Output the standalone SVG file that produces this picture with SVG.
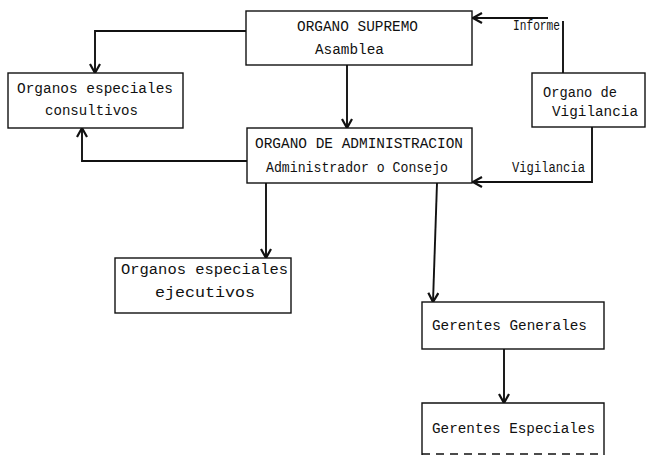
<svg xmlns="http://www.w3.org/2000/svg" width="651" height="458" viewBox="0 0 651 458">
<style>
.box{fill:#fff;stroke:#111;stroke-width:1.4}
.t{font-family:"Liberation Mono","DejaVu Sans Mono",monospace;font-size:14.5px;fill:#111}
.c{fill:none;stroke:#111;stroke-width:1.9}
</style>
<defs>
<marker id="ah" viewBox="0 0 12 12" refX="11" refY="6" markerWidth="12" markerHeight="12" markerUnits="userSpaceOnUse" orient="auto">
<path d="M2,1 L11,6 L2,11" fill="none" stroke="#111" stroke-width="2.2"/>
</marker>
</defs>
<rect width="651" height="458" fill="#fff"/>
<g id="connectors">
<path class="c" d="M246,31 H95 V73" marker-end="url(#ah)"/>
<path class="c" d="M247,161 H82 V128" marker-end="url(#ah)"/>
<path class="c" d="M347,65 V128" marker-end="url(#ah)"/>
<path class="c" d="M563,73 V21 M548,18 H473" marker-end="url(#ah)"/>
<path class="c" d="M592,127 V182 H473" marker-end="url(#ah)"/>
<path class="c" d="M266,183 V258" marker-end="url(#ah)"/>
<path class="c" d="M437,183 L433,302" marker-end="url(#ah)"/>
<path class="c" d="M504,349 V403" marker-end="url(#ah)"/>
<text class="t" x="513" y="30" textLength="47" lengthAdjust="spacingAndGlyphs">Informe</text>
<text class="t" x="512" y="172" textLength="73" lengthAdjust="spacingAndGlyphs">Vigilancia</text>
</g>
<g id="supremo">
<rect class="box" x="246" y="11" width="226" height="54"/>
<text class="t" x="297" y="31" textLength="121" lengthAdjust="spacingAndGlyphs">ORGANO SUPREMO</text>
<text class="t" x="315" y="54" textLength="69" lengthAdjust="spacingAndGlyphs">Asamblea</text>
</g>
<g id="consultivos">
<rect class="box" x="8" y="73" width="175" height="55"/>
<text class="t" x="17" y="93" textLength="156" lengthAdjust="spacingAndGlyphs">Organos especiales</text>
<text class="t" x="45" y="115" textLength="93" lengthAdjust="spacingAndGlyphs">consultivos</text>
</g>
<g id="administracion">
<rect class="box" x="247" y="128" width="225" height="55"/>
<text class="t" x="255" y="148" textLength="208" lengthAdjust="spacingAndGlyphs">ORGANO DE ADMINISTRACION</text>
<text class="t" x="266" y="172" textLength="182" lengthAdjust="spacingAndGlyphs">Administrador o Consejo</text>
</g>
<g id="vigilancia">
<rect class="box" x="532" y="73" width="113" height="54"/>
<text class="t" x="543" y="97" textLength="74" lengthAdjust="spacingAndGlyphs">Organo de</text>
<text class="t" x="552" y="116" textLength="86" lengthAdjust="spacingAndGlyphs">Vigilancia</text>
</g>
<g id="ejecutivos">
<rect class="box" x="115" y="258" width="176" height="55"/>
<text class="t" x="121" y="274" textLength="167" lengthAdjust="spacingAndGlyphs">Organos especiales</text>
<text class="t" x="155" y="297" textLength="100" lengthAdjust="spacingAndGlyphs">ejecutivos</text>
</g>
<g id="gerentes-generales">
<rect class="box" x="422" y="302" width="182" height="47"/>
<text class="t" x="432" y="330" textLength="155" lengthAdjust="spacingAndGlyphs">Gerentes Generales</text>
</g>
<g id="gerentes-especiales">
<path class="box" d="M422,455 V403 H604 V455" fill="#fff"/>
<path d="M422,454 H604" fill="none" stroke="#111" stroke-width="1.3" stroke-dasharray="8,6"/>
<text class="t" x="432" y="433" textLength="163" lengthAdjust="spacingAndGlyphs">Gerentes Especiales</text>
</g>
</svg>
